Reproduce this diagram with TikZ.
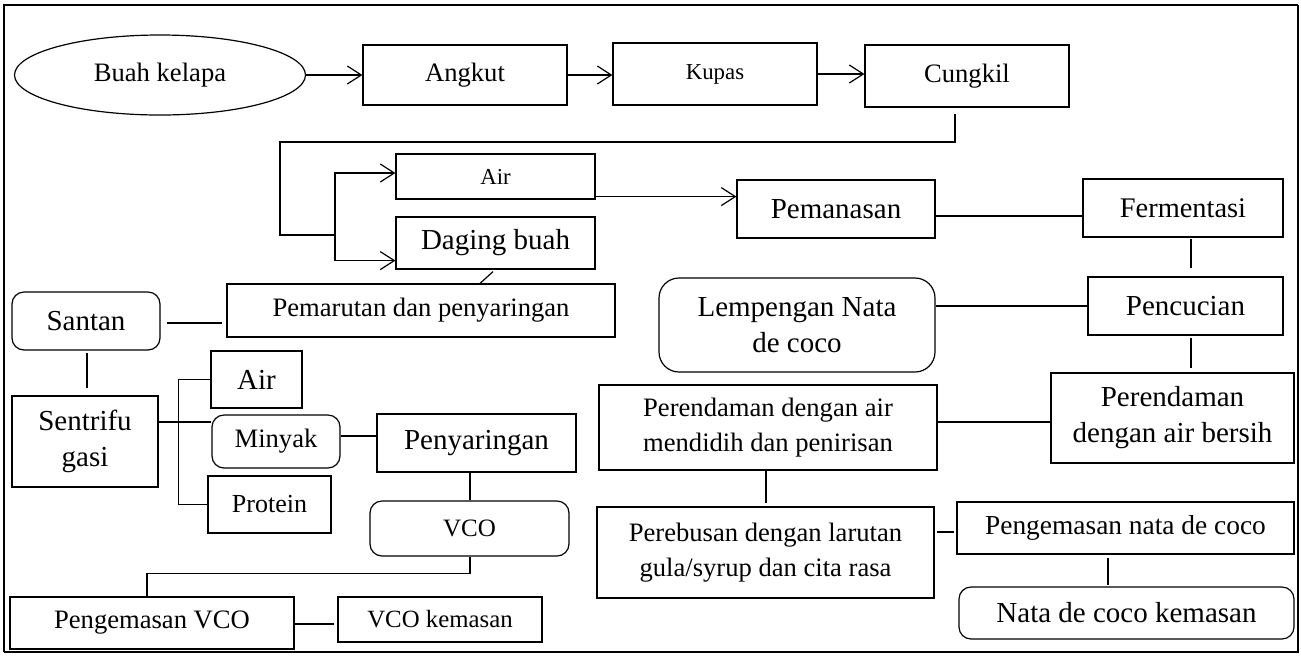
\documentclass[tikz,border=0pt]{standalone}
\usepackage{fontspec}
\setmainfont{Liberation Serif}
\usetikzlibrary{shapes.geometric,arrows.meta,calc}

\begin{document}
\begin{tikzpicture}[x=0.5pt,y=-0.5pt]
  % Styles
  \tikzstyle{box}=[draw,rectangle,line width=0.6pt,inner sep=0pt,align=center]
  \tikzstyle{round box}=[box,rounded corners=6pt]
  \tikzstyle{flow}=[line width=0.6pt]
  \tikzstyle{flow arrow}=[flow,-{Straight Barb[length=7pt,width=9pt]}]
  \tikzstyle{small text}=[font=\fontsize{11.4}{14}\selectfont]
  \tikzstyle{mid text}=[font=\fontsize{13.3}{17.5}\selectfont]
  \tikzstyle{big text}=[font=\fontsize{14.5}{18}\selectfont]

  \useasboundingbox (0,0) rectangle (1301,655);

  % Frame
  \draw[line width=1.2pt] (4,652) -- (4,5) -- (1298,5);
  \draw[line width=0.6pt] (1298,5) -- (1298,652) -- (4,652);

  % Top row
  \node[box,ellipse,mid text,minimum width=145.5pt,minimum height=40pt] (kelapa) at (160,75) {Buah kelapa};
  \node[box,mid text,minimum width=102pt,minimum height=30pt] (angkut) at (465,75) {Angkut};
  \node[box,small text,minimum width=102pt,minimum height=31pt] (kupas) at (715,74) {Kupas};
  \node[box,mid text,minimum width=102pt,minimum height=31pt] (cungkil) at (967,76) {Cungkil};

  \draw[style=flow arrow] (kelapa) -- (angkut);
  \draw[style=flow arrow] (angkut.east) -- (angkut.east -| kupas.west);
  \draw[style=flow arrow] (kupas.east) -- (kupas.east -| cungkil.west);

  % Air and daging buah
  \node[box,small text,minimum width=99.5pt,minimum height=22.5pt] (air1) at (495.5,176.5) {Air};
  \node[box,big text,minimum width=99.5pt,minimum height=26pt] (daging) at (495.5,243) {Daging buah};

  \coordinate (bend) at (280,142);
  \coordinate (fork) at (335,235);
  \draw[style=flow] ($(cungkil.south)+(-12,6)$) |- (bend) |- (fork);
  \draw[style=flow arrow] (fork) |- ($(air1.west)+(0,-3.5)$);
  \draw[style=flow arrow] (fork) |- ($(daging.south west)+(0,-9)$);

  % Nata de coco branch
  \node[box,big text,minimum width=99pt,minimum height=29pt] (pemanasan) at (836,209) {Pemanasan};
  \node[box,font=\fontsize{14.2}{17}\selectfont,minimum width=100pt,minimum height=29pt] (fermentasi) at (1183,208) {Fermentasi};
  \node[box,big text,minimum width=97.5pt,minimum height=29pt] (pencucian) at (1185.5,306) {Pencucian};
  \node[round box,big text,rounded corners=10pt,minimum width=138pt,minimum height=47pt] (lempengan) at (797,325) {Lempengan Nata\\de coco};
  \node[box,big text,minimum width=121.5pt,minimum height=45pt] (bersih) at (1172.5,418) {Perendaman\\dengan air bersih};
  \node[box,mid text,minimum width=169pt,minimum height=42.5pt] (mendidih) at (768,427.5) {Perendaman dengan air\\mendidih dan penirisan};
  \node[box,mid text,minimum width=168.5pt,minimum height=45.5pt] (perebusan) at (765.5,552.5) {Perebusan dengan larutan\\gula/syrup dan cita rasa};
  \node[box,font=\fontsize{13.7}{17}\selectfont,minimum width=168.5pt,minimum height=26pt] (pengnata) at (1125.5,528) {Pengemasan nata de coco};
  \node[round box,big text,minimum width=167.5pt,minimum height=26pt] (natakemasan) at (1126.5,613) {Nata de coco kemasan};

  \coordinate (a1) at ($(air1.south east)+(0,-3)$);
  \draw[style=flow arrow] (a1) -- (a1 -| pemanasan.west);
  \coordinate (p1) at ($(pemanasan.east)+(0,7)$);
  \draw[style=flow] (p1) -- (p1 -| fermentasi.west);
  \draw[style=flow] ($(fermentasi.south)+(8,1)$) -- ($(pencucian.north)+(5.5,-8)$);
  \draw[style=flow] (lempengan.east |- pencucian) -- (pencucian.west);
  \draw[style=flow] ($(pencucian.south)+(5.5,2)$) -- ($(bersih.north)+(18.5,-4)$);
  \coordinate (m1) at ($(mendidih.east)+(0,-5.5)$);
  \draw[style=flow] (m1) -- (m1 -| bersih.west);
  \draw[style=flow] ($(mendidih.south)+(-2,0)$) -- ($(perebusan.north)+(0.5,-3)$);
  \coordinate (r1) at ($(perebusan.east)+(2,-20.5)$);
  \draw[style=flow] (r1) -- ($(r1 -| pengnata.west)+(-2,0)$);
  \draw[style=flow] ($(pengnata.south)+(-17.5,3)$) -- ($(natakemasan.north)+(-18.5,-1)$);

  % Santan and VCO branch
  \node[box,mid text,minimum width=194pt,minimum height=26.5pt] (pemarutan) at (421,310.5) {Pemarutan dan penyaringan};
  \node[round box,big text,minimum width=74pt,minimum height=29pt] (santan) at (86,321) {Santan};
  \node[box,big text,minimum width=73pt,minimum height=45.5pt] (sentri) at (85,441.5) {Sentrifu\\gasi};
  \node[box,big text,minimum width=45.5pt,minimum height=28.5pt] (air2) at (256.5,379.5) {Air};
  \node[round box,mid text,minimum width=64pt,minimum height=26.5pt] (minyak) at (276,441.5) {Minyak};
  \node[box,font=\fontsize{13}{16}\selectfont,minimum width=61.5pt,minimum height=28.5pt] (protein) at (269.5,504.5) {Protein};
  \node[box,big text,minimum width=99.5pt,minimum height=29pt] (penyaringan) at (476.5,443) {Penyaringan};
  \node[round box,font=\fontsize{12.5}{15}\selectfont,minimum width=99.5pt,minimum height=27.5pt] (vco) at (469.5,528.5) {VCO};
  \node[box,mid text,minimum width=142pt,minimum height=26pt] (pvco) at (152,623) {Pengemasan VCO};
  \node[box,font=\fontsize{12.4}{15}\selectfont,minimum width=102pt,minimum height=22.5pt] (vcok) at (440,619.5) {VCO kemasan};

  \draw[style=flow] ($(daging.south)+(-2.5,2)$) -- ($(pemarutan.north)+(59,0)$);
  \coordinate (s1) at ($(santan.east)+(6,2)$);
  \draw[style=flow] (s1) -- ($(s1 -| pemarutan.west)+(-4,0)$);
  \draw[style=flow] ($(santan.south)+(1,2)$) -- ($(sentri.north)+(2,-7)$);
  \coordinate (s2) at ($(sentri.east)+(0,-19.5)$);
  \coordinate (split) at ($(s2)+(20,0)$);
  \draw[style=flow] (s2) -- (s2 -| minyak.west);
  \draw[style=flow] (air2.west) -| (split) |- (protein.west);
  \coordinate (m2) at ($(minyak.east)+(0,-5.5)$);
  \draw[style=flow] (m2) -- (m2 -| penyaringan.west);
  \draw[style=flow] ($(penyaringan.south)+(-6.5,0)$) -- ($(vco.north)+(0.5,0)$);
  \draw[style=flow] ($(vco.south)+(0.5,0)$) -- ++(0,17) -| ($(pvco.north)+(-5,0)$);
  \draw[style=flow] ($(pvco.east)+(0,1)$) -- ($(vcok.west |- pvco.east)+(-3,1)$);
\end{tikzpicture}
\end{document}
